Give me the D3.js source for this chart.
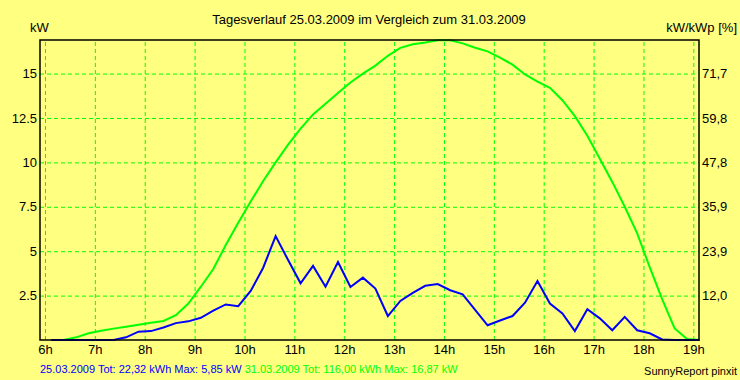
<!DOCTYPE html>
<html>
<head>
<meta charset="utf-8">
<script src="https://cdn.jsdelivr.net/npm/d3@7"></script>
<style>
    body { margin: 0; background: #ffff80; }
    svg { display: block; }
    text { font-family: "Liberation Sans", Arial, sans-serif; font-size: 13px; }
</style>
</head>
<body>
<div id="svg-container"></div>
<script>

//Chart data (15 minute values, first point at 6:07)
var startHour = 6.125;
var stepHour = 0.25;

var blueKw = [0, 0, 0, 0, 0, 0, 0.15, 0.47, 0.5, 0.7,
    0.95, 1.05, 1.25, 1.65, 2.0, 1.9, 2.76, 4.07, 5.85, 4.5,
    3.19, 4.17, 3.0, 4.39, 2.98, 3.51, 2.9, 1.35, 2.2, 2.65,
    3.05, 3.15, 2.8, 2.57, 1.7, 0.83, 1.1, 1.35, 2.1, 3.32,
    2.05, 1.5, 0.5, 1.73, 1.22, 0.55, 1.3, 0.55, 0.38, 0.03,
    0, 0, 0];

var greenKw = [0, 0, 0.15, 0.38, 0.52, 0.64, 0.75, 0.86, 0.97, 1.07,
    1.4, 2.05, 3.0, 4.0, 5.35, 6.6, 7.8, 8.95, 10.0, 11.0,
    11.9, 12.7, 13.3, 13.9, 14.5, 15.0, 15.45, 16.0, 16.45, 16.65,
    16.75, 16.87, 16.87, 16.7, 16.45, 16.25, 15.9, 15.5, 14.95, 14.55,
    14.2, 13.5, 12.6, 11.5, 10.2, 8.9, 7.5, 6.0, 4.1, 2.3,
    0.65, 0.05, 0];

var hourTicks = [6, 7, 8, 9, 10, 11, 12, 13, 14, 15, 16, 17, 18, 19];
var kwTicks = [2.5, 5, 7.5, 10, 12.5, 15];
var kwLabels = ["2.5", "5", "7.5", "10", "12.5", "15"];
var pctLabels = ["12,0", "23,9", "35,9", "47,8", "59,8", "71,7"];

var title = "Tagesverlauf 25.03.2009 im Vergleich zum 31.03.2009";
var blueText = "25.03.2009 Tot: 22,32 kWh Max: 5,85 kW";
var greenText = "31.03.2009 Tot: 116,00 kWh Max: 16,87 kW";

//Set size variables
var width = 740;
var height = 380;
var plotLeft = 40, plotRight = 699, plotTop = 40, plotBottom = 340;

var svg = d3.select("#svg-container").append("svg")
    .attr("width", width)
    .attr("height", height);

svg.append("rect")
    .attr("width", width)
    .attr("height", height)
    .attr("fill", "#ffff80");

var x = d3.scaleLinear()
    .domain([5.9, 19.114])
    .range([plotLeft, plotRight]);

var y = d3.scaleLinear()
    .domain([0, 16.89])
    .range([plotBottom, plotTop]);

//vertical grid
svg.append("g")
    .attr("transform", "translate(0," + plotBottom + ")")
    .call(d3.axisBottom(x).tickValues(hourTicks).tickSize(-(plotBottom - plotTop)).tickFormat(""))
    .call(function(g) {
        g.select(".domain").remove();
        g.selectAll("line")
            .attr("stroke", "#00ff00")
            .attr("stroke-dasharray", "4,3");
    });

//horizontal grid
svg.append("g")
    .attr("transform", "translate(" + plotLeft + ",0)")
    .call(d3.axisLeft(y).tickValues(kwTicks).tickSize(-(plotRight - plotLeft)).tickFormat(""))
    .call(function(g) {
        g.select(".domain").remove();
        g.selectAll("line")
            .attr("stroke", "#00ff00")
            .attr("stroke-dasharray", "4,3");
    });

//hour labels
svg.append("g")
    .attr("transform", "translate(0," + plotBottom + ")")
    .call(d3.axisBottom(x).tickValues(hourTicks).tickSize(0).tickPadding(5).tickFormat(function(d) {
        return d + "h";
    }))
    .call(function(g) {
        g.select(".domain").remove();
        g.selectAll("text").attr("fill", "black");
    });

//left labels
svg.append("g")
    .attr("transform", "translate(" + plotLeft + ",0)")
    .call(d3.axisLeft(y).tickValues(kwTicks).tickSize(0).tickPadding(3).tickFormat(function(d, i) {
        return kwLabels[i];
    }))
    .call(function(g) {
        g.select(".domain").remove();
        g.selectAll("text").attr("fill", "black");
    });

//right labels
svg.append("g")
    .attr("transform", "translate(" + plotRight + ",0)")
    .call(d3.axisRight(y).tickValues(kwTicks).tickSize(0).tickPadding(3).tickFormat(function(d, i) {
        return pctLabels[i];
    }))
    .call(function(g) {
        g.select(".domain").remove();
        g.selectAll("text").attr("fill", "black");
    });

var line = d3.line()
    .x(function(d, i) { return x(startHour + i * stepHour); })
    .y(function(d) { return y(d); });

svg.append("path")
    .datum(greenKw)
    .attr("d", line)
    .attr("fill", "none")
    .attr("stroke", "#00ff00")
    .attr("stroke-width", 2);

svg.append("path")
    .datum(blueKw)
    .attr("d", line)
    .attr("fill", "none")
    .attr("stroke", "#0000ff")
    .attr("stroke-width", 2);

//frame
svg.append("rect")
    .attr("x", plotLeft)
    .attr("y", plotTop)
    .attr("width", plotRight - plotLeft)
    .attr("height", plotBottom - plotTop)
    .attr("fill", "none")
    .attr("stroke", "black")
    .attr("stroke-width", 1.5);

//texts
svg.append("text")
    .attr("x", 369)
    .attr("y", 24)
    .attr("text-anchor", "middle")
    .text(title);

svg.append("text")
    .attr("x", 30)
    .attr("y", 32)
    .text("kW");

svg.append("text")
    .attr("x", 737)
    .attr("y", 32)
    .attr("text-anchor", "end")
    .text("kW/kWp [%]");

// css rule wins over attributes, so use style for the small texts
var footer = svg.append("text")
    .attr("x", 40)
    .attr("y", 373)
    .style("font-size", "11px");
footer.append("tspan").attr("fill", "#0000ff").text(blueText + " ");
footer.append("tspan").attr("fill", "#00ff00").text(greenText);

svg.append("text")
    .attr("x", 737)
    .attr("y", 375)
    .style("font-size", "11px")
    .attr("text-anchor", "end")
    .text("SunnyReport pinxit");

</script>
</body>
</html>
